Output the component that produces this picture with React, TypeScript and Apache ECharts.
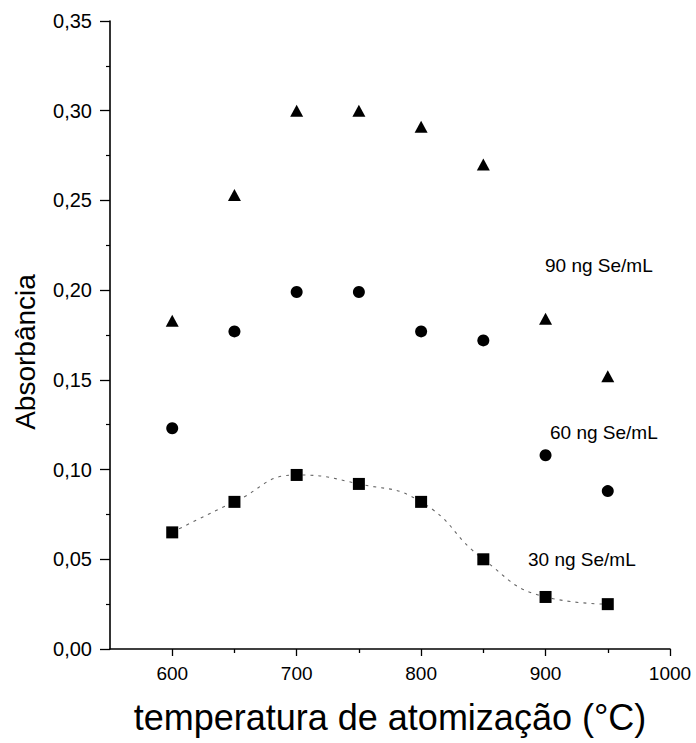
import React, { useEffect, useRef } from "react";
import * as echarts from "echarts";

const temperatures = [600, 650, 700, 750, 800, 850, 900, 950];
const abs90 = [0.183, 0.253, 0.3, 0.3, 0.291, 0.27, 0.184, 0.152];
const abs60 = [0.123, 0.177, 0.199, 0.199, 0.177, 0.172, 0.108, 0.088];
const abs30 = [0.065, 0.082, 0.097, 0.092, 0.082, 0.05, 0.029, 0.025];
const xMajorTicks = [600, 700, 800, 900, 1000];
const xMinorTicks = [650, 750, 850, 950];
const seriesLabels = ["90 ng Se/mL", "60 ng Se/mL", "30 ng Se/mL"];

const FONT = "'Liberation Sans', Arial, Helvetica, sans-serif";

export default function App() {
  const ref = useRef<HTMLDivElement>(null);
  useEffect(() => {
    if (!ref.current) return;
    const chart = echarts.init(ref.current, null, { renderer: "svg" });
    const pairs = (ys: number[]) => temperatures.map((t, i) => [t, ys[i]]);
    chart.setOption({
      animation: false,
      backgroundColor: "#ffffff",
      grid: { left: 110, right: 26, top: 21, bottom: 94, containLabel: false },
      xAxis: [
        {
          type: "value",
          min: 550,
          max: 1000,
          interval: 50,
          position: "bottom",
          axisLine: { show: true, onZero: false, lineStyle: { color: "#000", width: 1.6 } },
          axisTick: { show: true, inside: false, length: 4, customValues: xMinorTicks, lineStyle: { color: "#000", width: 1.3 } },
          axisLabel: { show: false },
          splitLine: { show: false },
        },
        {
          type: "value",
          min: 550,
          max: 1000,
          interval: 50,
          position: "bottom",
          axisLine: { show: false, onZero: false },
          axisTick: { show: true, inside: false, length: 7, customValues: xMajorTicks, lineStyle: { color: "#000", width: 1.3 } },
          axisLabel: {
            show: true,
            customValues: xMajorTicks,
            margin: 15,
            color: "#000",
            fontSize: 19,
            fontFamily: FONT,
            formatter: (v: number) => String(Math.round(v)),
          },
          splitLine: { show: false },
          name: "temperatura de atomização (°C)",
          nameLocation: "middle",
          nameGap: 50,
          nameTextStyle: { color: "#000", fontSize: 36, fontFamily: FONT },
        },
      ],
      yAxis: {
        type: "value",
        min: 0,
        max: 0.35,
        interval: 0.05,
        axisLine: { show: true, onZero: false, lineStyle: { color: "#000", width: 1.6 } },
        axisTick: { show: true, inside: false, length: 10, lineStyle: { color: "#000", width: 1.3 } },
        minorTick: { show: true, splitNumber: 2, length: 4, lineStyle: { color: "#000", width: 1.2 } },
        axisLabel: {
          margin: 18,
          color: "#000",
          fontSize: 20,
          fontFamily: FONT,
          formatter: (v: number) => v.toFixed(2).replace(".", ","),
        },
        splitLine: { show: false },
        minorSplitLine: { show: false },
      },
      graphic: [
        {
          type: "text",
          x: 25,
          y: 352,
          rotation: Math.PI / 2,
          style: {
            text: "Absorbância",
            fill: "#000",
            fontSize: 28,
            fontFamily: FONT,
            align: "center",
            verticalAlign: "middle",
          },
        },
        {
          type: "text",
          x: 545,
          y: 265,
          style: { text: seriesLabels[0], fill: "#000", fontSize: 19, fontFamily: FONT, align: "left", verticalAlign: "middle" },
        },
        {
          type: "text",
          x: 550,
          y: 432,
          style: { text: seriesLabels[1], fill: "#000", fontSize: 19, fontFamily: FONT, align: "left", verticalAlign: "middle" },
        },
        {
          type: "text",
          x: 528,
          y: 559,
          style: { text: seriesLabels[2], fill: "#000", fontSize: 19, fontFamily: FONT, align: "left", verticalAlign: "middle" },
        },
      ],
      series: [
        {
          name: seriesLabels[0],
          type: "scatter",
          xAxisIndex: 0,
          data: pairs(abs90),
          symbol: "triangle",
          symbolSize: [13, 12],
          itemStyle: { color: "#000", opacity: 1 },
        },
        {
          name: seriesLabels[1],
          type: "scatter",
          xAxisIndex: 0,
          data: pairs(abs60),
          symbol: "circle",
          symbolSize: 12,
          itemStyle: { color: "#000", opacity: 1 },
        },
        {
          name: seriesLabels[2],
          type: "line",
          xAxisIndex: 0,
          data: pairs(abs30),
          smooth: 0.5,
          symbol: "rect",
          symbolSize: 12,
          showSymbol: true,
          itemStyle: { color: "#000", opacity: 1 },
          lineStyle: { color: "#666", width: 1.1, type: [3, 5] },
        },
      ],
    });
    return () => chart.dispose();
  }, []);
  return (
    <div
      ref={ref}
      style={{ position: "fixed", left: 0, top: 0, width: 696, height: 743, background: "#fff" }}
    />
  );
}
